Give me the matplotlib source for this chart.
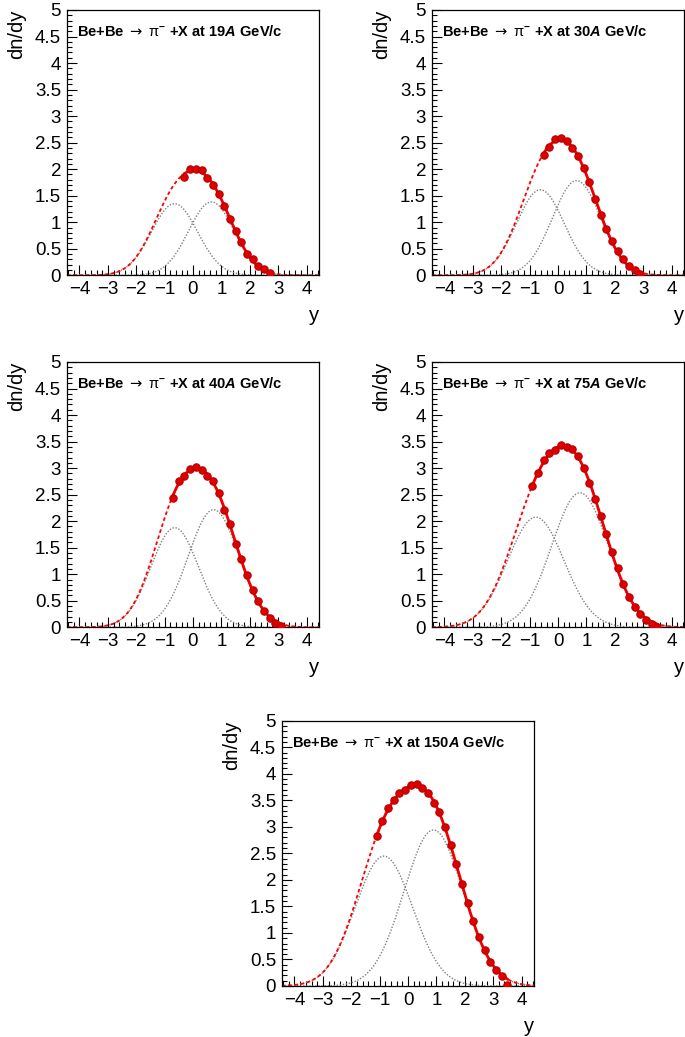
import numpy as np
import matplotlib
matplotlib.use('Agg')
import matplotlib.pyplot as plt
from matplotlib.ticker import MultipleLocator

plt.rcParams['font.family'] = ['Liberation Sans', 'DejaVu Sans']
plt.rcParams['mathtext.fontset'] = 'custom'
plt.rcParams['mathtext.rm'] = 'Liberation Sans:bold'
plt.rcParams['mathtext.it'] = 'Liberation Sans:bold:italic'
plt.rcParams['mathtext.bf'] = 'Liberation Sans:bold'
plt.rcParams['mathtext.sf'] = 'Liberation Sans'
plt.rcParams['mathtext.cal'] = 'DejaVu Sans'

# beam momenta
energies = ['19', '30', '40', '75', '150']

# measured pi- rapidity spectra
rap_19 = [-0.3, -0.1, 0.1, 0.3, 0.5, 0.7, 0.9, 1.1, 1.3, 1.5, 1.7, 1.9, 2.1, 2.3, 2.5, 2.7]
dndy_19 = [1.85, 2.00, 2.01, 1.98, 1.83, 1.70, 1.53, 1.31, 1.07, 0.83, 0.62, 0.41, 0.30, 0.18, 0.11, 0.04]

rap_30 = [-0.5, -0.3, -0.1, 0.1, 0.3, 0.5, 0.7, 0.9, 1.1, 1.3, 1.5, 1.7, 1.9, 2.1, 2.3, 2.5, 2.7, 2.9]
dndy_30 = [2.27, 2.42, 2.56, 2.59, 2.53, 2.40, 2.25, 2.02, 1.75, 1.44, 1.14, 0.87, 0.65, 0.46, 0.30, 0.17, 0.10, 0.03]

rap_40 = [-0.7, -0.5, -0.3, -0.1, 0.1, 0.3, 0.5, 0.7, 0.9, 1.1, 1.3, 1.5, 1.7, 1.9, 2.1, 2.3, 2.5, 2.7, 2.9, 3.1]
dndy_40 = [2.44, 2.75, 2.85, 2.99, 3.02, 2.96, 2.86, 2.76, 2.54, 2.21, 1.95, 1.57, 1.28, 0.99, 0.70, 0.50, 0.30, 0.18, 0.09, 0.02]

rap_75 = [-0.9, -0.7, -0.5, -0.3, -0.1, 0.1, 0.3, 0.5, 0.7, 0.9, 1.1, 1.3, 1.5, 1.7, 1.9, 2.1, 2.3, 2.5, 2.7, 2.9, 3.1, 3.3, 3.5]
dndy_75 = [2.66, 2.90, 3.15, 3.28, 3.34, 3.44, 3.40, 3.36, 3.23, 3.01, 2.72, 2.41, 2.09, 1.76, 1.41, 1.11, 0.82, 0.58, 0.38, 0.26, 0.14, 0.07, 0.01]

rap_150 = [-1.1, -0.9, -0.7, -0.5, -0.3, -0.1, 0.1, 0.3, 0.5, 0.7, 0.9, 1.1, 1.3, 1.5, 1.7, 1.9, 2.1, 2.3, 2.5, 2.7, 2.9, 3.1, 3.3, 3.5]
dndy_150 = [2.82, 3.11, 3.35, 3.50, 3.63, 3.70, 3.79, 3.81, 3.73, 3.64, 3.45, 3.28, 2.99, 2.65, 2.29, 1.92, 1.57, 1.23, 0.93, 0.68, 0.45, 0.30, 0.18, 0.01]

# double gaussian fit parameters (amp, mean, sigma) for left / right component
fit_left = [(1.349, -0.650, 0.814), (1.612, -0.621, 0.841), (1.877, -0.644, 0.841),
            (2.075, -0.782, 0.995), (2.448, -0.849, 1.011)]
fit_right = [(1.383, 0.649, 0.803), (1.784, 0.656, 0.851), (2.216, 0.728, 0.895),
             (2.535, 0.774, 0.998), (2.941, 0.898, 1.042)]

rap_list = [rap_19, rap_30, rap_40, rap_75, rap_150]
dndy_list = [dndy_19, dndy_30, dndy_40, dndy_75, dndy_150]


def gaus(x, a, m, s):
    return a * np.exp(-(x - m) ** 2 / (2 * s ** 2))


fig = plt.figure(figsize=(6.85, 10.37), dpi=100)
W, H = 685.0, 1037.0
# frame left edge / bottom edge in pixels
boxes = [(66.7, 275.3), (431.7, 275.3), (66.7, 627.3), (431.7, 627.3), (281.7, 986.0)]
aw, ah = 252.6, 265.3

for i in range(5):
    x0, yb = boxes[i]
    ax = fig.add_axes([x0 / W, 1 - yb / H, aw / W, ah / H])
    x = np.array(rap_list[i])
    y = np.array(dndy_list[i])

    xx = np.linspace(-4.45, 4.45, 600)
    gl = gaus(xx, *fit_left[i])
    gr = gaus(xx, *fit_right[i])
    tot = gl + gr
    ax.plot(xx, gl, color='#808080', lw=1.0, ls=(0, (1, 1.2)))
    ax.plot(xx, gr, color='#808080', lw=1.0, ls=(0, (1, 1.2)))
    inside = (xx >= x.min()) & (xx <= x.max())
    ax.plot(xx, tot, color='#ff0000', lw=1.3, ls=(0, (2, 1.5)))
    ax.plot(xx[inside], tot[inside], color='#ee0000', lw=2.0, ls='-')
    ax.plot(x, y, 'o', color='#dd0000', mec='#b80000', mew=0.8, ms=5.3, zorder=5)

    ax.set_xlim(-4.45, 4.45)
    ax.set_ylim(0, 5)
    ax.xaxis.set_major_locator(MultipleLocator(1))
    ax.xaxis.set_minor_locator(MultipleLocator(0.2))
    ax.yaxis.set_major_locator(MultipleLocator(0.5))
    ax.yaxis.set_minor_locator(MultipleLocator(0.1))
    ax.yaxis.set_major_formatter(plt.FuncFormatter(lambda v, pos: ('%g' % v)))
    ax.tick_params(which='both', direction='in', top=False, right=False, labelsize=13.5, width=0.8)
    ax.tick_params(which='major', length=7, pad=4)
    ax.tick_params(which='minor', length=3.5)
    for s in ax.spines.values():
        s.set_linewidth(0.9)
    ax.set_ylabel('dn/dy', fontsize=14.5, loc='top', labelpad=6)
    ax.set_xlabel('y', fontsize=14.5, loc='right', labelpad=6)
    ax.text(0.04, 0.918,
            r'Be+Be $\mathcal{\rightarrow}$ $\mathsf{\pi}^{-}$ +X at %s$A$ GeV/c' % energies[i],
            transform=ax.transAxes, fontsize=10.5, fontweight='bold', va='center', ha='left')

fig.savefig('out.png', dpi=100)
